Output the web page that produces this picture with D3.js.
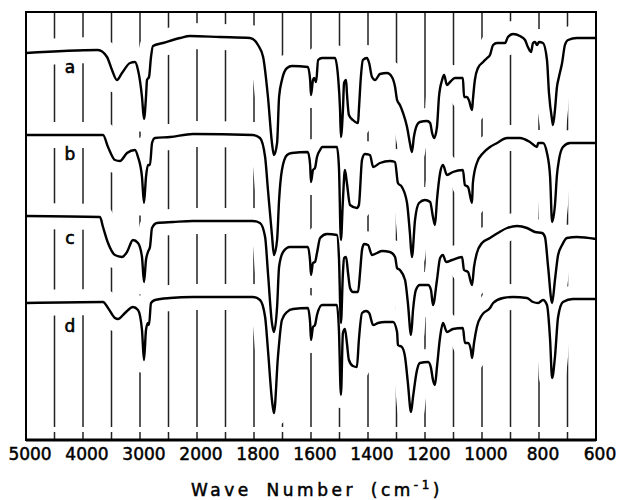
<!DOCTYPE html>
<html>
<head>
<meta charset="utf-8">
<script src="https://cdn.jsdelivr.net/npm/d3@7/dist/d3.min.js"></script>
<style>
  body { margin: 0; background: #fff; }
</style>
</head>
<body>
<div id="spectra"></div>
<script>
/* IR spectra a-d, stacked on one wave number axis
 * (scale changes at 2000 cm-1)
 */

var waveTicks = [5000, 4000, 3000, 2000, 1800, 1600, 1400, 1200, 1000, 800, 600];
var gridWaves = [4500, 4000, 3500, 3000, 2500, 2000, 1900, 1800, 1700, 1600, 1500,
  1400, 1300, 1200, 1100, 1000, 900, 800, 700];
var traceNames = ['a', 'b', 'c', 'd'];
var nameLevels = [373, 286, 202, 114];

// [wave number, trace height]
var specA = [[5000,387],[3737,390],[3579,383],[3491,370],[3404,360],[3316,367],[3175,377],
  [3088,378],[3035,370],[2965,343],[2930,321],[2895,343],[2877,360],[2842,363],[2807,383],
  [2772,394],[2596,397],[2298,402],[2123,404],[1919,403],[1814,402],[1786,395],[1768,383],
  [1751,343],[1737,297],[1730,285],[1719,297],[1712,343],[1702,360],[1684,372],[1667,374],
  [1611,373],[1603,360],[1600,345],[1593,360],[1589,362],[1582,358],[1575,380],[1561,382],
  [1516,382],[1505,363],[1498,330],[1495,303],[1488,330],[1484,357],[1477,360],[1474,347],
  [1467,325],[1453,320],[1435,317],[1432,330],[1425,363],[1418,380],[1404,382],[1396,377],
  [1386,363],[1375,360],[1358,366],[1333,367],[1316,363],[1305,353],[1298,340],[1288,335],
  [1277,327],[1263,313],[1253,297],[1246,288],[1239,303],[1228,315],[1218,318],[1193,319],
  [1182,317],[1175,307],[1168,302],[1158,313],[1151,343],[1140,360],[1133,365],[1123,355],
  [1112,358],[1095,362],[1067,362],[1063,343],[1053,343],[1046,340],[1035,330],[1032,340],
  [1025,360],[1014,372],[996,378],[982,382],[972,385],[961,395],[947,397],[919,397],
  [909,403],[891,406],[867,404],[849,400],[839,393],[828,388],[821,397],[814,398],
  [807,395],[800,398],[786,397],[772,380],[765,347],[754,320],[751,315],[744,330],
  [737,353],[730,363],[719,377],[709,395],[698,400],[667,402],[600,402]];

var specB = [[5000,305],[3649,305],[3561,293],[3439,280],[3351,279],[3228,287],[3088,290],
  [3035,283],[2965,263],[2930,237],[2895,263],[2860,275],[2825,275],[2789,297],[2737,302],
  [2474,303],[2070,306],[1804,305],[1779,302],[1761,283],[1751,250],[1737,205],[1730,185],
  [1719,200],[1712,240],[1702,270],[1684,285],[1667,287],[1611,288],[1603,275],[1600,258],
  [1593,270],[1586,272],[1579,283],[1568,290],[1561,293],[1509,293],[1502,273],[1495,200],
  [1488,240],[1481,270],[1474,257],[1463,235],[1439,232],[1432,235],[1421,280],[1411,286],
  [1393,285],[1382,273],[1358,277],[1323,279],[1305,278],[1295,257],[1281,253],[1263,237],
  [1253,207],[1246,183],[1235,220],[1221,237],[1200,240],[1182,238],[1172,223],[1165,215],
  [1158,240],[1147,267],[1137,275],[1123,265],[1102,268],[1067,270],[1060,255],[1049,253],
  [1035,237],[1032,257],[1018,277],[996,287],[972,293],[947,297],[912,302],[867,302],
  [832,298],[807,293],[803,297],[786,297],[772,287],[761,263],[754,218],[744,235],
  [737,265],[730,280],[716,293],[691,297],[600,297]];

var specC = [[5000,224],[3702,223],[3649,213],[3561,197],[3439,185],[3316,183],[3228,188],
  [3123,200],[3035,197],[2965,183],[2930,158],[2895,180],[2860,188],[2825,193],[2789,212],
  [2702,217],[2421,218],[2070,219],[1804,219],[1779,217],[1761,203],[1751,167],[1737,117],
  [1730,108],[1719,133],[1712,173],[1698,188],[1674,193],[1611,193],[1603,178],[1600,165],
  [1593,177],[1586,178],[1579,187],[1568,202],[1544,206],[1509,205],[1502,183],[1495,117],
  [1488,167],[1484,182],[1477,183],[1470,167],[1463,152],[1453,148],[1435,148],[1428,167],
  [1421,190],[1414,196],[1400,195],[1386,185],[1368,187],[1351,189],[1323,188],[1305,183],
  [1298,172],[1288,170],[1270,160],[1260,137],[1249,105],[1242,130],[1232,150],[1218,155],
  [1189,155],[1179,150],[1172,135],[1158,160],[1147,182],[1137,185],[1126,178],[1105,180],
  [1070,183],[1063,170],[1049,168],[1035,155],[1028,173],[1018,187],[1000,197],[972,202],
  [944,207],[912,212],[877,214],[842,212],[814,208],[789,207],[779,203],[768,173],
  [754,137],[744,160],[733,185],[719,195],[702,202],[667,203],[600,201]];

var specD = [[5000,137],[3649,138],[3561,132],[3439,122],[3386,121],[3263,127],[3123,133],
  [3035,130],[2965,110],[2930,80],[2895,110],[2860,117],[2842,115],[2807,137],[2737,140],
  [2474,142],[2070,143],[1804,143],[1779,140],[1761,123],[1751,90],[1737,40],[1730,27],
  [1716,83],[1702,120],[1684,128],[1663,131],[1611,132],[1603,117],[1600,100],[1593,113],
  [1586,115],[1579,125],[1561,135],[1509,135],[1502,110],[1495,45],[1488,107],[1481,111],
  [1474,97],[1467,80],[1453,74],[1439,73],[1432,100],[1421,127],[1407,129],[1396,127],
  [1382,115],[1365,117],[1340,118],[1312,118],[1298,108],[1295,95],[1281,93],[1270,83],
  [1260,57],[1249,28],[1242,43],[1228,70],[1218,77],[1189,78],[1179,72],[1172,60],
  [1165,55],[1158,73],[1147,103],[1137,117],[1123,108],[1102,111],[1067,112],[1060,97],
  [1049,97],[1039,90],[1035,82],[1028,97],[1018,113],[1000,125],[972,132],[961,137],
  [926,142],[891,143],[842,142],[821,138],[803,137],[786,140],[772,135],[761,100],
  [754,62],[744,83],[733,123],[716,138],[681,141],[600,141]];

var spectra = [specA, specB, specC, specD];

function plot() {
  // svg space
  var fullWidth = 618;
  var fullHeight = 500;
  var margin = {top: 12, right: 22, bottom: 60, left: 26};
  var width = fullWidth - margin.left - margin.right;
  var height = fullHeight - margin.top - margin.bottom;

  var svg = d3.select('#spectra')
    .append('svg')
    .attr('width', fullWidth)
    .attr('height', fullHeight);

  var g = svg.append('g')
    .attr('transform', 'translate(' + margin.left + ',' + margin.top + ')');

  // piecewise x scale, 1000 per division above 2000, 200 per division below
  var x = d3.scaleLinear()
    .domain([5000, 2000, 600])
    .range([0, width * 3 / 10, width]);
  var y = d3.scaleLinear()
    .domain([0, height])
    .range([height, 0]);

  // chart paper lines
  g.selectAll('.grid')
    .data(gridWaves)
    .enter().append('line')
    .attr('class', 'grid')
    .attr('x1', function(d) { return x(d); })
    .attr('x2', function(d) { return x(d); })
    .attr('y1', 0)
    .attr('y2', height - 13)
    .attr('stroke', '#222')
    .attr('stroke-width', 1.5);

  g.selectAll('.tick-mark')
    .data(gridWaves)
    .enter().append('line')
    .attr('class', 'tick-mark')
    .attr('x1', function(d) { return x(d); })
    .attr('x2', function(d) { return x(d); })
    .attr('y1', height - 8)
    .attr('y2', height)
    .attr('stroke', '#222')
    .attr('stroke-width', 1.5);

  var line = d3.line()
    .x(function(d) { return x(d[0]); })
    .y(function(d) { return y(d[1]); })
    .curve(d3.curveMonotoneX);

  // white band behind each trace breaks the paper lines
  g.selectAll('.halo')
    .data(spectra)
    .enter().append('path')
    .attr('class', 'halo')
    .attr('d', line)
    .attr('fill', 'none')
    .attr('stroke', '#fff')
    .attr('stroke-width', 26)
    .attr('stroke-linejoin', 'round');

  g.selectAll('.trace')
    .data(spectra)
    .enter().append('path')
    .attr('class', 'trace')
    .attr('d', line)
    .attr('fill', 'none')
    .attr('stroke', '#000')
    .attr('stroke-width', 2.4)
    .attr('stroke-linejoin', 'round');

  // trace letters
  g.selectAll('.name')
    .data(traceNames)
    .enter().append('text')
    .attr('class', 'name')
    .attr('x', x(4230))
    .attr('y', function(d, i) { return y(nameLevels[i]); })
    .attr('dy', '0.35em')
    .attr('text-anchor', 'middle')
    .style('font-family', 'DejaVu Sans')
    .style('font-size', '17px')
    .style('stroke', '#000')
    .style('stroke-width', '0.6px')
    .text(function(d) { return d; });

  // frame
  g.append('rect')
    .attr('width', width)
    .attr('height', height)
    .attr('fill', 'none')
    .attr('stroke', '#000')
    .attr('stroke-width', 2);
  g.append('line')
    .attr('x1', 0).attr('x2', width)
    .attr('y1', height).attr('y2', height)
    .attr('stroke', '#000')
    .attr('stroke-width', 3);

  // tick labels
  g.selectAll('.wave-label')
    .data(waveTicks)
    .enter().append('text')
    .attr('class', 'wave-label')
    .attr('x', function(d) { return x(d) + 4; })
    .attr('y', height + 20)
    .attr('text-anchor', 'middle')
    .style('font-family', 'DejaVu Sans')
    .style('font-size', '17px')
    .style('stroke', '#000')
    .style('stroke-width', '0.5px')
    .text(function(d) { return d; });

  // axis title
  var title = g.append('text')
    .attr('x', width / 2 + 6)
    .attr('y', height + 56)
    .attr('text-anchor', 'middle')
    .style('font-family', 'DejaVu Sans')
    .style('font-size', '17px')
    .style('stroke', '#000')
    .style('stroke-width', '0.5px')
    .style('letter-spacing', '3.5px')
    .style('word-spacing', '6px');
  title.append('tspan').text('Wave Number (cm');
  title.append('tspan')
    .attr('dy', -7)
    .style('font-size', '12px')
    .text('-1');
  title.append('tspan')
    .attr('dy', 7)
    .text(')');
}

plot();
</script>
</body>
</html>
